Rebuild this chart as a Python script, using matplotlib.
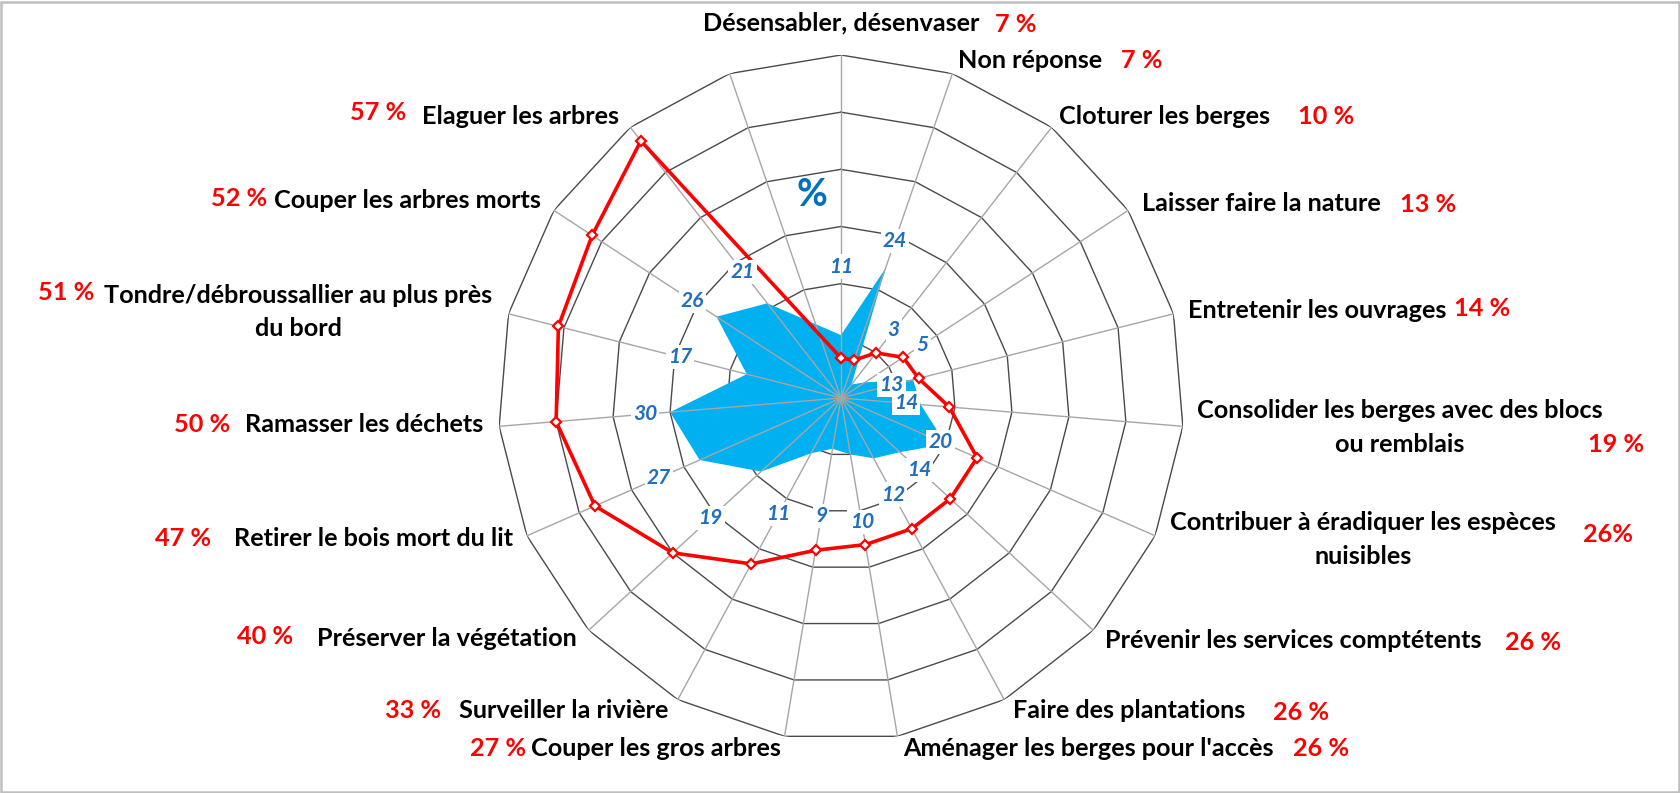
import numpy as np
import matplotlib
matplotlib.use("Agg")
import matplotlib.pyplot as plt
from matplotlib.patches import Rectangle

# ---------------- data ----------------
categories = [
    "Désensabler, désenvaser", "Non réponse", "Cloturer les berges",
    "Laisser faire la nature", "Entretenir les ouvrages",
    "Consolider les berges avec des blocs\nou remblais",
    "Contribuer à éradiquer les espèces\nnuisibles",
    "Prévenir les services comptétents", "Faire des plantations",
    "Aménager les berges pour l'accès", "Couper les gros arbres",
    "Surveiller la rivière", "Préserver la végétation",
    "Retirer le bois mort du lit", "Ramasser les déchets",
    "Tondre/débroussallier au plus près\ndu bord",
    "Couper les arbres morts", "Elaguer les arbres", "",
]
red_values = [7, 7, 10, 13, 14, 19, 26, 26, 26, 26, 27, 33, 40, 47, 50, 51, 52, 57, None]
blue_values = [11, 24, 3, 5, 13, 14, 20, 14, 12, 10, 9, 11, 19, 27, 30, 17, 26, 21, None]
pct_sep = [" ", " ", " ", " ", " ", " ", "", " ", " ", " ", " ", " ", " ", " ", " ", " ", " ", " "]
r_max = 60
r_step = 10

# ---------------- layout (pixels of the 1681x793 canvas) ----------------
W, H = 1681, 793
CX, CY, R = 841, 398, 343
LINE_STEP = 34  # px between lines of a wrapped label

# first-line centres (x, y) for category text, and centres for percentage text
cat_pos = [(841, 23), (1030, 60), (1165, 116), (1261, 204), (1317, 311),
           (1400, 410), (1363, 523), (1293, 640), (1129, 710), (1088, 748),
           (656, 748), (564, 710), (447, 638), (374, 538), (364, 425),
           (298, 295), (407, 201), (521, 116)]
pct_pos = [(1016, 24), (1142, 60), (1326, 117), (1428, 205), (1482, 308),
           (1616, 444), (1608, 535), (1533, 642), (1301, 712), (1321, 748),
           (498, 748), (413, 710), (265, 636), (183, 538), (202, 424),
           (66, 293), (239, 199), (378, 112)]
# radial position (data units) of the blue value labels
blue_lab_r = [23, 29, 15, 17, 9.1, 11.4, 19, 18.5, 19.2, 22, 21, 23, 31, 34.8, 34.4, 29, 31, 28]

font = "Lato"
fs_cat = 18.2
fs_blue = 15

fig = plt.figure(figsize=(W / 100, H / 100), dpi=100)
fig.patch.set_facecolor("white")

ax = fig.add_axes([(CX - R) / W, (H - CY - R) / H, 2 * R / W, 2 * R / H], projection="polar")
ax.set_theta_zero_location("N")
ax.set_theta_direction(-1)
ax.set_ylim(0, r_max)
ax.set_xticks([])
ax.set_yticks([])
ax.grid(False)
ax.spines["polar"].set_visible(False)
ax.patch.set_alpha(0)

n = len(categories)
theta = np.arange(n) * 2 * np.pi / n

# rings (polygonal)
tc = np.append(theta, theta[0])
for r in np.arange(r_step, r_max + r_step, r_step):
    ax.plot(tc, np.full(len(tc), r), color="#4A4A4A", lw=1.0, zorder=1)

# blue filled series (empty category skipped -> connected)
bmask = [v is not None for v in blue_values]
bt = theta[bmask]
bv = np.array([v for v in blue_values if v is not None], dtype=float)
ax.fill(np.append(bt, bt[0]), np.append(bv, bv[0]), color="#00B0F0", lw=0, zorder=2)

# spokes
for t in theta:
    ax.plot([t, t], [0, r_max], color="#A6A6A6", lw=1.0, zorder=3)

# red line series
rmask = [v is not None for v in red_values]
rt = theta[rmask]
rv = np.array([v for v in red_values if v is not None], dtype=float)
ax.plot(np.append(rt, rt[0]), np.append(rv, rv[0]), color="#FF0000", lw=2.6,
        marker="D", ms=5.5, mfc="white", mec="#FF0000", mew=1.6, zorder=4)

# blue value labels
for t, v, rl in zip(bt, bv, blue_lab_r):
    ax.text(t, rl, f"{int(v)}", ha="center", va="center", fontsize=fs_blue,
            fontstyle="italic", fontweight="bold", color="#1F6EC0", family=font,
            bbox=dict(boxstyle="square,pad=0.1", fc="white", ec="none"), zorder=6)

# "%" marker
fig.text(812 / W, 1 - 195 / H, "%", ha="center", va="center", fontsize=27,
         fontweight="bold", color="#0070C0", family=font)

# category labels (each line placed on its own) and red percentages
for lab, (x, y) in zip(categories[:len(cat_pos)], cat_pos):
    for k, line in enumerate(lab.split("\n")):
        fig.text(x / W, 1 - (y + k * LINE_STEP) / H, line, ha="center", va="center",
                 fontsize=fs_cat, fontweight="bold", color="black", family=font)
for v, sep, (x, y) in zip(red_values, pct_sep, pct_pos):
    fig.text(x / W, 1 - y / H, f"{v}{sep}%", ha="center", va="center", fontsize=fs_cat,
             fontweight="bold", color="#FF0000", family=font)

# chart border
fig.patches.append(Rectangle((1.5 / W, 1.5 / H), 1 - 3 / W, 1 - 3 / H, transform=fig.transFigure,
                             fill=False, ec="#BFBFBF", lw=1.8))

fig.savefig("out.png", dpi=100, facecolor="white")
